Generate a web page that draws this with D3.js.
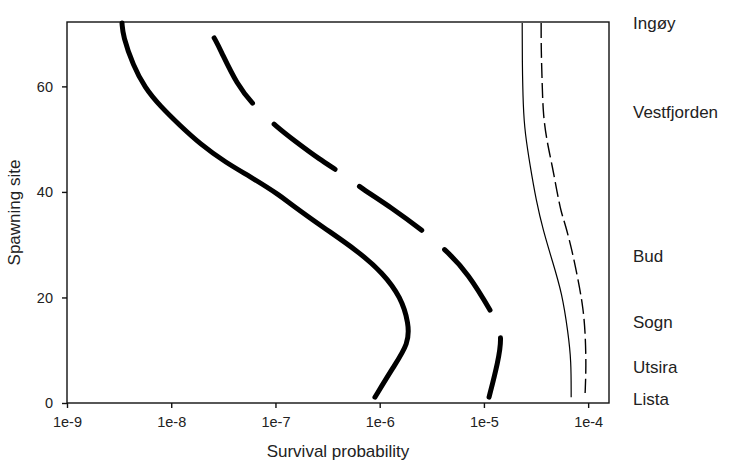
<!DOCTYPE html>
<html>
<head>
<meta charset="utf-8">
<script src="https://cdn.jsdelivr.net/npm/d3@7"></script>
<style>
  html, body { margin: 0; padding: 0; background: #fff; }
  svg { display: block; font-family: Arial, "Liberation Sans", sans-serif; }
</style>
</head>
<body>
<svg id="chart" width="729" height="461"></svg>
<script>
// ---- data ----
const xTickValues = [1e-9, 1e-8, 1e-7, 1e-6, 1e-5, 1e-4];
const xTickLabels = ["1e-9", "1e-8", "1e-7", "1e-6", "1e-5", "1e-4"];
const yTickValues = [0, 20, 40, 60];

// thick solid
const sitesA = [1.1, 6.8, 11.3, 15.1, 20.0, 24.6, 28.9, 33.3, 37.8, 39.3, 42.5, 45.6, 49.1, 52.6, 56.3, 59.7, 64.0, 69.6, 72.0];
const probA  = [9.0e-7, 1.35e-6, 1.9e-6, 1.9e-6, 1.6e-6, 1.08e-6, 6.07e-7, 2.86e-7, 1.38e-7, 1.11e-7, 6.2e-8, 3.3e-8, 1.89e-8, 1.21e-8, 7.8e-9, 5.6e-9, 4.3e-9, 3.44e-9, 3.37e-9];

// thick dashed
const sitesB = [1.1, 7.6, 13.2, 17.0, 24.6, 29.1, 32.3, 37.2, 40.6, 43.6, 46.1, 49.9, 52.3, 56.1, 60.3, 67.1, 69.2];
const probB  = [1.12e-5, 1.36e-5, 1.52e-5, 1.20e-5, 7.05e-6, 4.25e-6, 2.73e-6, 1.26e-6, 6.78e-7, 4.27e-7, 2.68e-7, 1.48e-7, 1.035e-7, 6.37e-8, 4.27e-8, 2.94e-8, 2.58e-8];

// thin solid
const sitesC = [1.1, 8.1, 13.2, 20.8, 27.0, 32.7, 38.4, 45.0, 51.2, 55.8, 65.2, 72.0];
const probC  = [6.87e-5, 6.87e-5, 6.43e-5, 5.62e-5, 4.52e-5, 3.70e-5, 3.17e-5, 2.77e-5, 2.48e-5, 2.38e-5, 2.33e-5, 2.33e-5];

// thin dashed
const sitesD = [1.9, 6.8, 13.2, 18.1, 23.3, 28.9, 34.0, 36.1, 39.9, 45.0, 49.3, 54.4, 60.7, 67.1, 72.0];
const probD  = [9.35e-5, 9.57e-5, 9.40e-5, 8.95e-5, 8.02e-5, 7.01e-5, 6.01e-5, 5.51e-5, 5.04e-5, 4.52e-5, 4.05e-5, 3.70e-5, 3.62e-5, 3.54e-5, 3.54e-5];

const siteNames = ["Lista", "Utsira", "Sogn", "Bud", "Vestfjorden", "Ingøy"];
const siteNamePos = [0.8, 6.8, 15.3, 27.8, 55.2, 72.0];

// ---- layout ----
const svg = d3.select("#chart");
const L = 67, R = 609, T = 22, B = 403;

const x = d3.scaleLog().domain([1e-9, Math.pow(10, -3.8)]).range([L, R]);
const y = d3.scaleLinear().domain([0, 72.2]).range([B, T]);

// frame
svg.append("rect")
  .attr("x", L).attr("y", T).attr("width", R - L).attr("height", B - T)
  .attr("fill", "none").attr("stroke", "#111").attr("stroke-width", 1.4);

// axes
const xAxis = d3.axisBottom(x).tickValues(xTickValues)
  .tickFormat((d, i) => xTickLabels[i]).tickSize(5).tickSizeOuter(0).tickPadding(9);
const gx = svg.append("g").attr("transform", `translate(0,${B})`).call(xAxis);
gx.select(".domain").remove();
gx.selectAll("line").attr("stroke", "#111").attr("stroke-width", 1.4);
gx.selectAll("text").attr("fill", "#222").style("font-size", "14.5px").attr("font-family", null);

const yAxis = d3.axisLeft(y).tickValues(yTickValues).tickSize(5).tickSizeOuter(0).tickPadding(9);
const gy = svg.append("g").attr("transform", `translate(${L},0)`).call(yAxis);
gy.select(".domain").remove();
gy.selectAll("line").attr("stroke", "#111").attr("stroke-width", 1.4);
gy.selectAll("text").attr("fill", "#222").style("font-size", "14.5px").attr("font-family", null);

// axis titles
svg.append("text").attr("x", (L + R) / 2).attr("y", 457)
  .attr("text-anchor", "middle").style("font-size", "17px").attr("fill", "#222")
  .text("Survival probability");
svg.append("text").attr("transform", `translate(20,${(T + B) / 2}) rotate(-90)`)
  .attr("text-anchor", "middle").style("font-size", "17px").attr("fill", "#222")
  .text("Spawning site");

// site names on the right
svg.selectAll("text.site").data(siteNames).enter().append("text")
  .attr("class", "site")
  .attr("x", 633)
  .attr("y", (d, i) => y(siteNamePos[i]))
  .attr("dy", "0.35em")
  .style("font-size", "17px").attr("fill", "#222")
  .text(d => d);

// curves
const line = d3.line()
  .x(d => x(d[1])).y(d => y(d[0]))
  .curve(d3.curveBasis);

function series(sites, probs, topFirst) {
  const pts = sites.map((s, i) => [s, probs[i]]);
  return topFirst ? pts.slice().reverse() : pts;
}

svg.append("path").datum(series(sitesA, probA, true))
  .attr("d", line).attr("fill", "none").attr("stroke", "#000")
  .attr("stroke-width", 5).attr("stroke-linecap", "round").attr("stroke-linejoin", "round");

svg.append("path").datum(series(sitesB, probB, true))
  .attr("d", line).attr("fill", "none").attr("stroke", "#000")
  .attr("stroke-width", 5).attr("stroke-linecap", "round").attr("stroke-linejoin", "round")
  .attr("stroke-dasharray", "76 30");

svg.append("path").datum(series(sitesC, probC, true))
  .attr("d", line).attr("fill", "none").attr("stroke", "#000")
  .attr("stroke-width", 1.2);

svg.append("path").datum(series(sitesD, probD, true))
  .attr("d", line).attr("fill", "none").attr("stroke", "#000")
  .attr("stroke-width", 1.4).attr("stroke-dasharray", "15 5");
</script>
</body>
</html>
